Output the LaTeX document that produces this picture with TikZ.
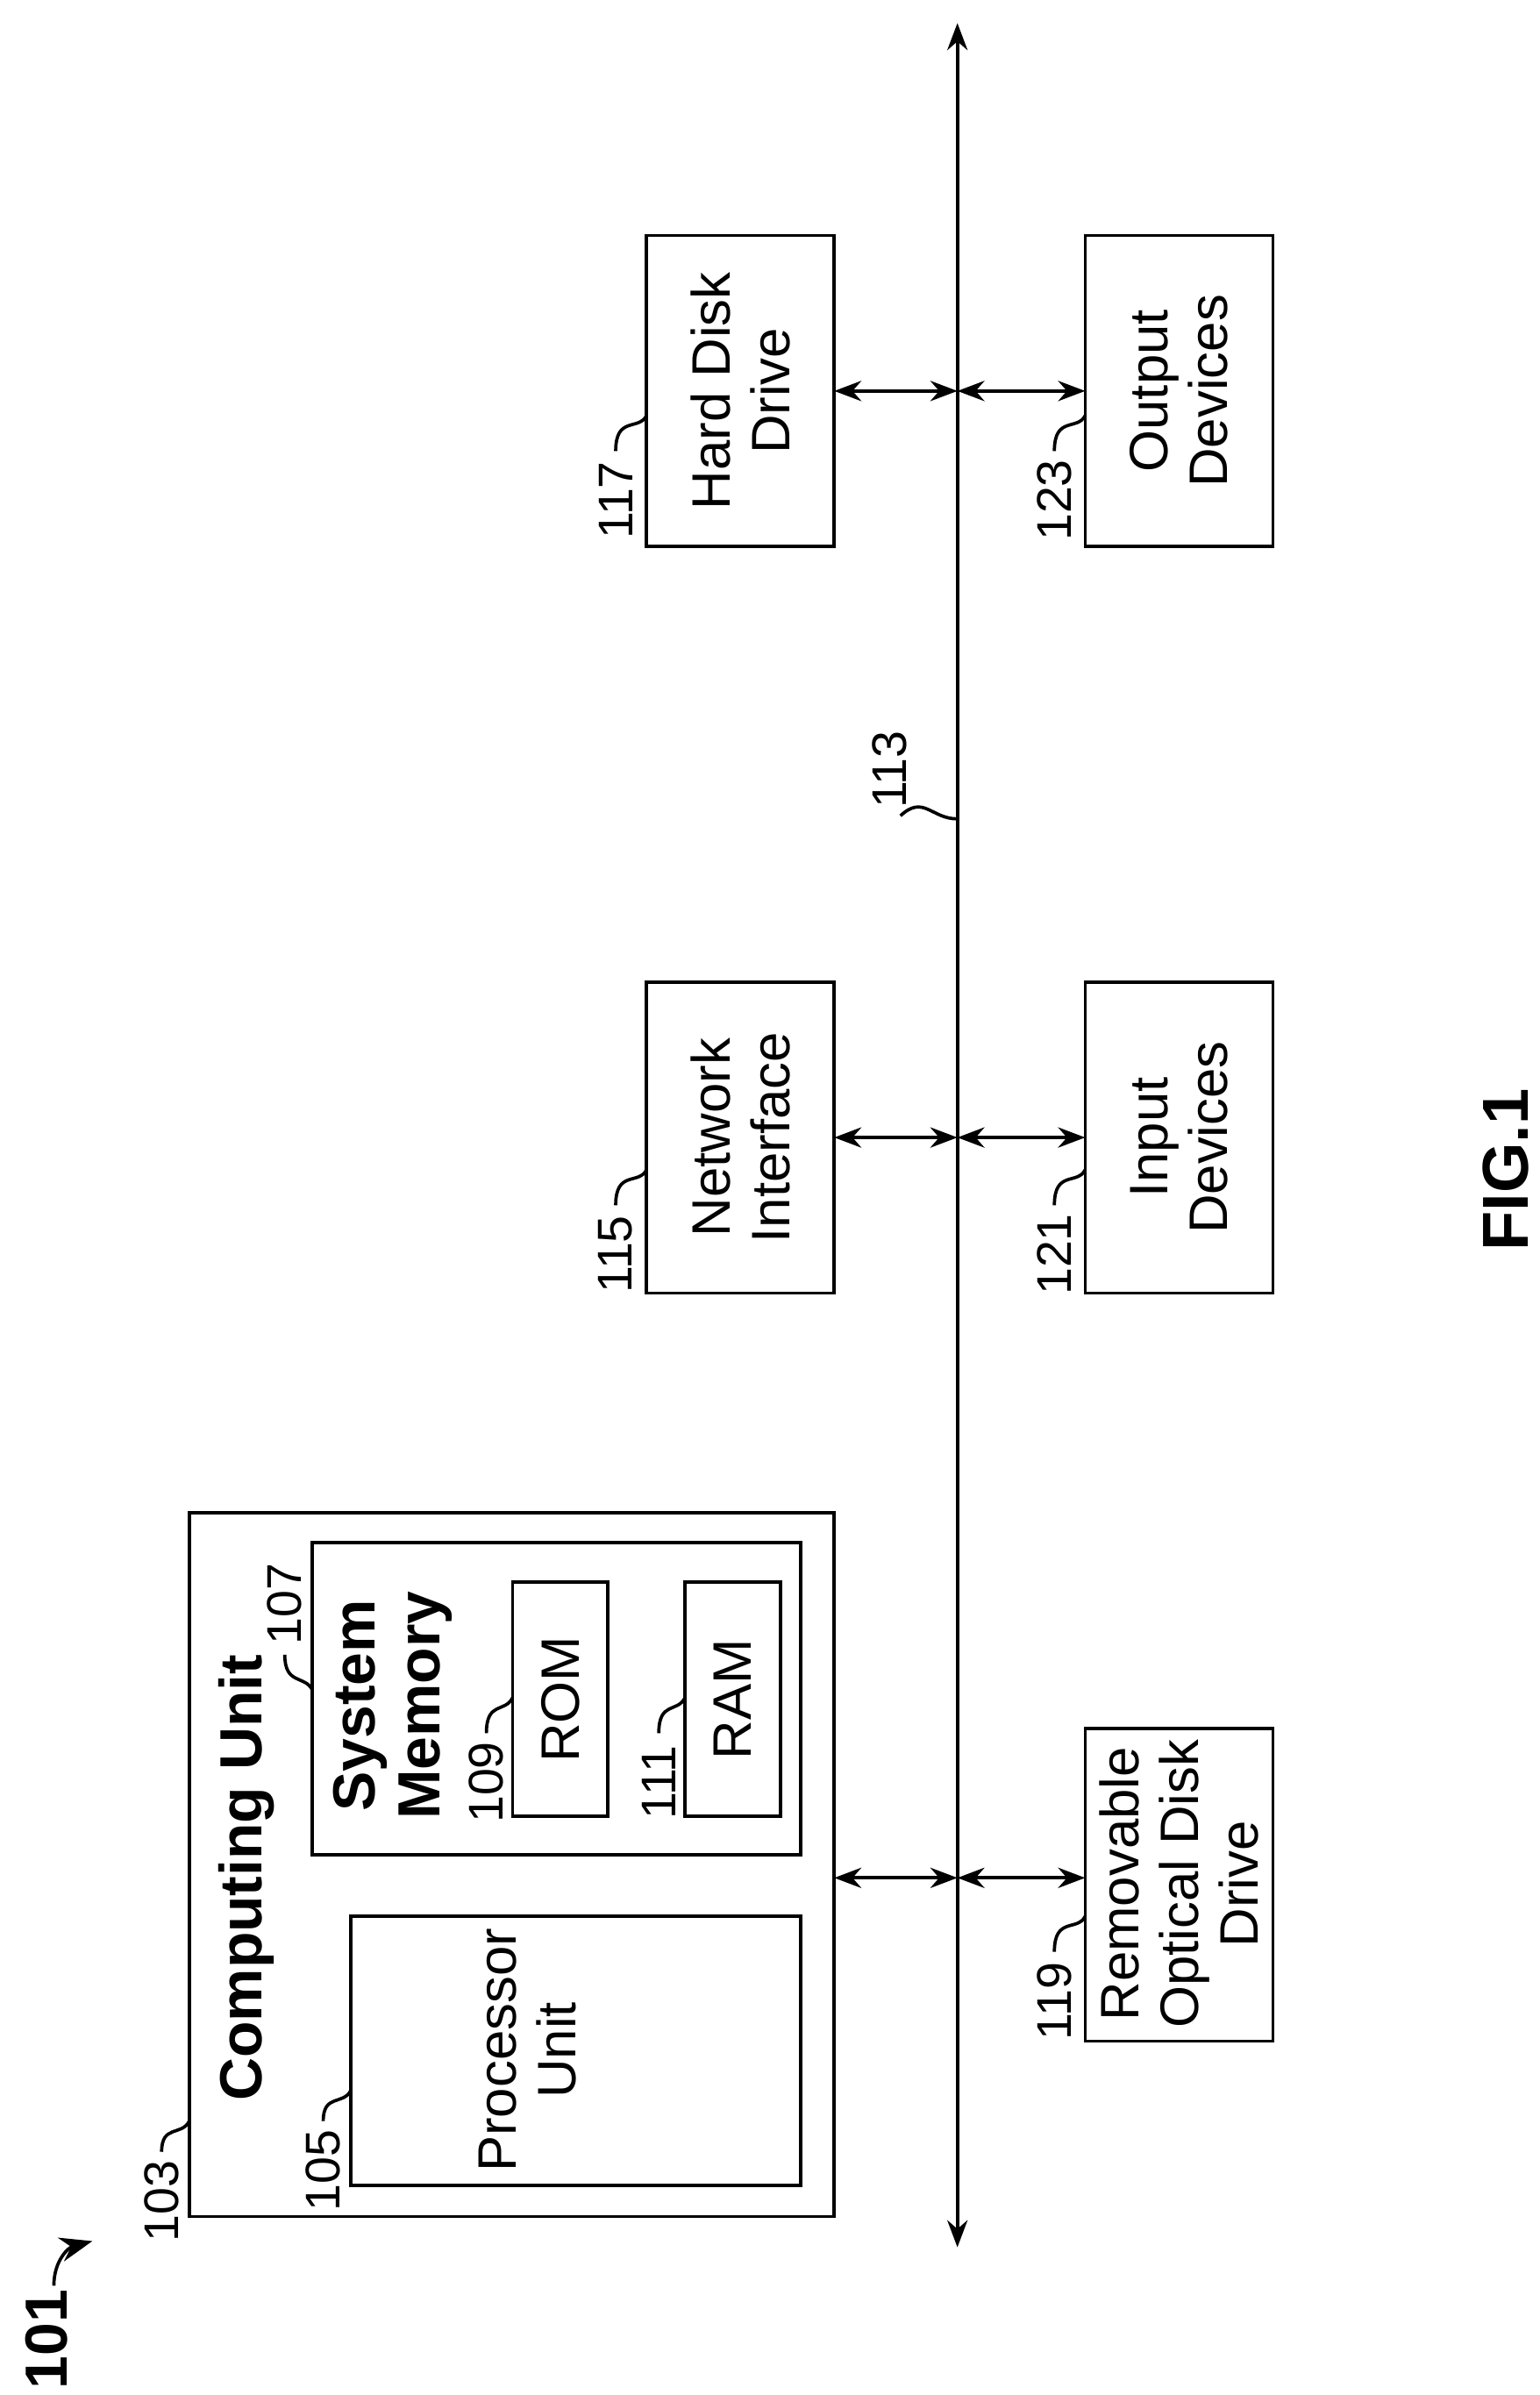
\documentclass[tikz,border=0pt]{standalone}
\usepackage{fontspec}
\setmainfont{Liberation Sans}
\usetikzlibrary{arrows.meta}
\begin{document}
\begin{tikzpicture}[x=0.01cm,y=-0.01cm,line width=0.6pt,
  box/.style={draw,inner sep=0pt},
  txt/.style={rotate=90,align=center,font=\fontsize{10}{11}\selectfont},
  num/.style={rotate=90,font=\fontsize{9}{10}\selectfont},
  link/.style={{Stealth[length=5pt]}-{Stealth[length=5pt]}}]
\useasboundingbox (0,0) rectangle (1000,1556);
% bus
\coordinate (top) at (622,15);
\coordinate (bot) at (622,1460);
\draw[link] (top) -- (bot);
% boxes
\draw (420,153) rectangle (542,355);
\node[txt] (hdd) at (481,254) {Hard Disk\\Drive};
\draw (705,153) rectangle (827,355);
\node[txt] (out) at (766,254) {Output\\Devices};
\draw (420,638) rectangle (542,840);
\node[txt] (net) at (481,739) {Network\\Interface};
\draw (705,638) rectangle (827,840);
\node[txt] (inp) at (766,739) {Input\\Devices};
\draw (705,1123) rectangle (827,1326);
\node[txt] (odd) at (766,1224) {Removable\\Optical Disk\\Drive};
% computing unit
\draw (123,983) rectangle (542,1440);
\node[txt,font=\fontsize{11}{12}\selectfont\bfseries] (cu) at (160,1220) {Computing Unit};
\draw (203,1002) rectangle (520,1205);
\node[txt,font=\fontsize{11}{12}\selectfont\bfseries] (sm) at (255,1108) {System\\Memory};
\draw (333,1028) rectangle (395,1180);
\node[txt] (rom) at (364,1104) {ROM};
\draw (445,1028) rectangle (507,1180);
\node[txt] (ram) at (476,1104) {RAM};
\draw (228,1245) rectangle (520,1420);
\node[txt] (pu) at (343,1332) {Processor\\Unit};
% connectors
\foreach \yy in {254,739,1220} {
  \coordinate (l\yy) at (542,\yy);
  \coordinate (b\yy) at (622,\yy);
  \coordinate (r\yy) at (705,\yy);
  \draw[link] (l\yy) -- (b\yy);
  \draw[link] (b\yy) -- (r\yy);
}
% reference numerals
\node[num] (n117) at (400,325) {117};
\draw (400,293) .. controls (400,270) and (415,280) .. (420,270);
\node[num] (n123) at (685,325) {123};
\draw (685,293) .. controls (685,270) and (700,280) .. (705,270);
\node[num] (n115) at (400,815) {115};
\draw (400,783) .. controls (400,760) and (415,770) .. (420,760);
\node[num] (n121) at (685,815) {121};
\draw (685,783) .. controls (685,760) and (700,770) .. (705,760);
\node[num] (n119) at (685,1300) {119};
\draw (685,1268) .. controls (685,1245) and (700,1255) .. (705,1245);
\node[num] (n103) at (105,1430) {103};
\draw (105,1398) .. controls (105,1380) and (118,1388) .. (123,1378);
\node[num] (n105) at (210,1410) {105};
\draw (210,1378) .. controls (210,1360) and (223,1368) .. (228,1358);
\node[num] (n107) at (185,1042) {107};
\draw (185,1075) .. controls (185,1095) and (198,1088) .. (203,1098);
\node[num] (n109) at (316,1158) {109};
\draw (316,1126) .. controls (316,1105) and (328,1113) .. (333,1103);
\node[num] (n111) at (428,1158) {111};
\draw (428,1126) .. controls (428,1105) and (440,1113) .. (445,1103);
\node[num] (n113) at (578,500) {113};
\draw (585,530) .. controls (600,516) and (605,532) .. (622,532);
\node[num,font=\fontsize{11}{12}\selectfont\bfseries] (n101) at (30,1520) {101};
\draw[-{Stealth[length=6pt]}] (35,1485) .. controls (35,1468) and (45,1460) .. (60,1456);
\node[txt,font=\fontsize{12}{13}\selectfont\bfseries] (fig) at (978,760) {FIG.1};
\end{tikzpicture}
\end{document}
